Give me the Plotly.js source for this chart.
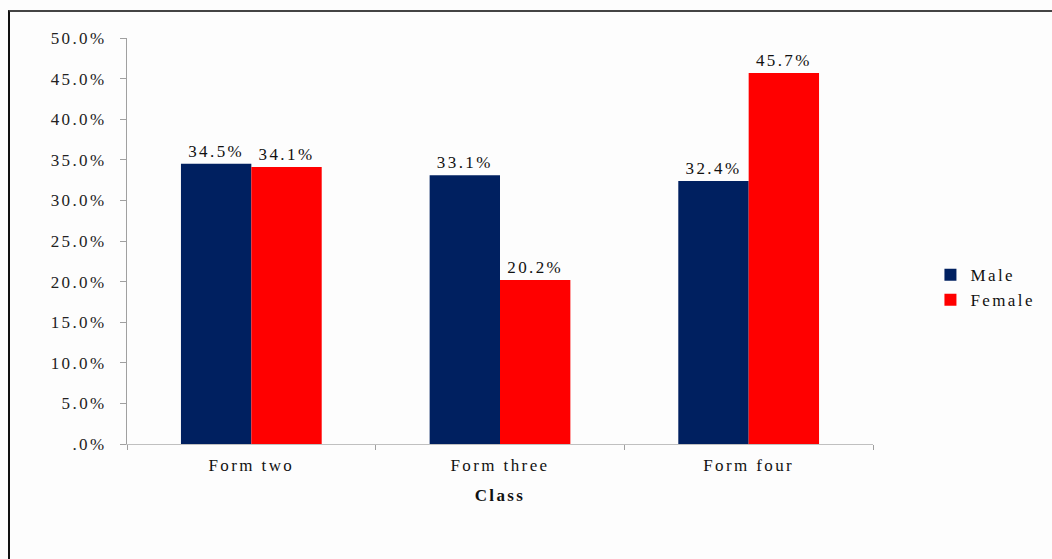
<!DOCTYPE html>
<html>
<head>
<meta charset="utf-8">
<script src="https://cdn.plot.ly/plotly-3.0.1.min.js"></script>
<style>
  html, body { margin: 0; padding: 0; background: #fdfdfd; }
  #wrap { position: relative; width: 1052px; height: 559px; overflow: hidden; }
  #chart { width: 1052px; height: 559px; }
  svg text { letter-spacing: 2.4px; }
  #frame {
    position: absolute; left: 8px; top: 10px; width: 1100px; height: 600px;
    border-left: 2px solid #111; border-top: 2px solid #444;
    pointer-events: none; box-sizing: border-box;
  }
</style>
</head>
<body>
<div id="wrap">
  <div id="chart"></div>
  <div id="frame"></div>
</div>
<script>
// Share of students by class and gender
const classes = ["Form two", "Form three", "Form four"];
const maleShare = [34.5, 33.1, 32.4];
const femaleShare = [34.1, 20.2, 45.7];
const yTickValues = [0, 5, 10, 15, 20, 25, 30, 35, 40, 45, 50];
const yTickLabels = [".0%", "5.0%", "10.0%", "15.0%", "20.0%", "25.0%", "30.0%", "35.0%", "40.0%", "45.0%", "50.0%"];

const serif = "Liberation Serif, Times New Roman, serif";

const common = {
  type: "bar",
  x: classes,
  texttemplate: "%{y:.1f}%",
  textposition: "outside",
  cliponaxis: false,
  textfont: { family: serif, size: 17, color: "#111" },
  hoverinfo: "skip"
};

const traces = [
  Object.assign({}, common, { name: "Male", y: maleShare, marker: { color: "#002060" } }),
  Object.assign({}, common, { name: "Female", y: femaleShare, marker: { color: "#ff0000" } })
];

const layout = {
  width: 1052,
  height: 559,
  paper_bgcolor: "#fdfdfd",
  plot_bgcolor: "#fdfdfd",
  margin: { l: 127, r: 177, t: 38, b: 115 },
  barmode: "group",
  bargap: 0.434,
  bargroupgap: 0,
  font: { family: serif, size: 17, color: "#222" },
  showlegend: true,
  legend: {
    x: 1.077, xanchor: "left", y: 0.385, yanchor: "middle",
    font: { family: serif, size: 17, color: "#111" },
    bgcolor: "rgba(0,0,0,0)",
    itemwidth: 30
  },
  xaxis: {
    type: "category",
    automargin: false,
    showline: true, linecolor: "#c0c0c0", linewidth: 1,
    ticks: "outside", tickson: "boundaries", ticklen: 5, tickcolor: "#a0a0a0",
    ticklabelstandoff: 6,
    tickfont: { family: serif, size: 17, color: "#111" },
    showgrid: false, zeroline: false,
    title: { text: "<b>Class</b>", font: { family: serif, size: 17, color: "#111" }, standoff: 14 }
  },
  yaxis: {
    range: [0, 50],
    automargin: false,
    tickvals: yTickValues, ticktext: yTickLabels,
    showline: true, linecolor: "#a0a0a0", linewidth: 1,
    ticks: "outside", ticklen: 6, tickcolor: "#a0a0a0",
    ticklabelstandoff: 10,
    tickfont: { family: serif, size: 17, color: "#222" },
    showgrid: false, zeroline: false
  }
};

Plotly.newPlot("chart", traces, layout, { displayModeBar: false, staticPlot: true });
</script>
</body>
</html>
